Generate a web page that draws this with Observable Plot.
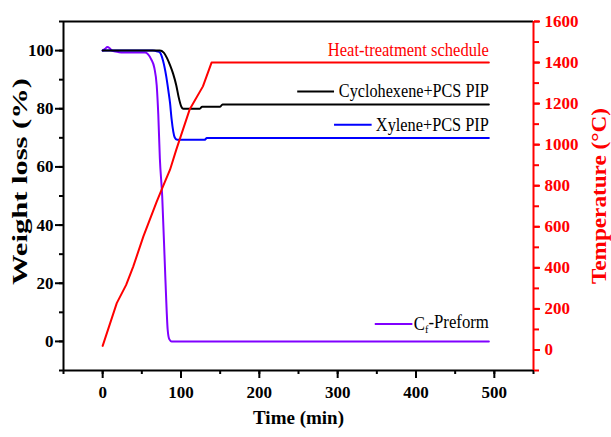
<!DOCTYPE html>
<html><head><meta charset="utf-8">
<script src="https://cdn.jsdelivr.net/npm/d3@7"></script>
<script src="https://cdn.jsdelivr.net/npm/@observablehq/plot@0.6"></script>
<style>body{margin:0;background:#fff} svg{display:block}</style>
</head><body><div id="chart"></div>
<script>
// ---- data ----
const heatTime = [0, 18, 30, 39, 52, 69, 77, 86, 94, 111, 128, 139, 493];
const heatTemp = [20, 228, 317, 406, 553, 723, 797, 878, 976, 1171, 1284, 1400, 1400];

const cycloTime   = [0, 73, 78, 82, 86, 90, 94, 97, 100, 103, 124, 127, 150, 153, 493];
const cycloWeight = [100, 100, 99.3, 97.5, 95, 92, 88, 84, 81, 80, 80, 80.7, 80.7, 81.5, 81.5];

const xyleneTime   = [0, 64, 70, 73, 77, 81, 84, 86, 88, 92, 95, 130, 133, 493];
const xyleneWeight = [100, 100, 99.7, 99.4, 96.6, 91.4, 86, 82, 76.4, 70.1, 69.3, 69.3, 69.9, 69.9];

const preformTime   = [0, 3, 6, 9, 12, 20, 26, 54, 58, 62, 66, 69, 71, 73, 76, 80, 83, 85, 88, 493];
const preformWeight = [100, 100.6, 101.2, 100.8, 100, 99.5, 99.3, 99.3, 98.7, 97, 94, 88, 78, 63, 50, 22, 4, 0.8, 0, 0];

const xTicks = [0, 100, 200, 300, 400, 500];
const yTicks = [0, 20, 40, 60, 80, 100];
const tempTicks = [0, 200, 400, 600, 800, 1000, 1200, 1400, 1600];

const legendLabels = ["Heat-treatment schedule", "Cyclohexene+PCS PIP", "Xylene+PCS PIP", "Cf-Preform"];
const legendColors = ["#ff0000", "#000000", "#0000ff", "#8000ff"];

// ---- layout ----
const xDomain = [-50, 550], yDomain = [-10, 110], tDomain = [-100, 1600];
const toW = T => (T - tDomain[0]) / (tDomain[1] - tDomain[0]) * (yDomain[1] - yDomain[0]) + yDomain[0];
const fromW = w => (w - yDomain[0]) / (yDomain[1] - yDomain[0]) * (tDomain[1] - tDomain[0]) + tDomain[0];

const legendTextX = 493;
const legendY = [100.2, 85.9, 74.5, 6.0];
const legendTextColors = ["#ff0000", "#000", "#000", "#000"];
const legendSampleX = [null, [249, 296], [296, 344], [348, 396]];
const legendTextLen = [161, 150, 113, 75];

const heat = heatTime.map((t, i) => ({t, w: toW(heatTemp[i])}));
const cyclo = cycloTime.map((t, i) => ({t, w: cycloWeight[i]}));
const xylene = xyleneTime.map((t, i) => ({t, w: xyleneWeight[i]}));
const preform = preformTime.map((t, i) => ({t, w: preformWeight[i]}));

const legend = legendLabels.map((label, i) => ({label, y: legendY[i], color: legendColors[i], textColor: legendTextColors[i], s: legendSampleX[i]}));
const samples = legend.filter(d => d.s);

const font = "'Liberation Serif','Times New Roman',serif";

const chart = Plot.plot({
  width: 611, height: 437,
  marginLeft: 63, marginRight: 78, marginTop: 21, marginBottom: 67,
  style: {fontFamily: font, background: "white", color: "black"},
  x: {domain: xDomain},
  y: {domain: yDomain},
  marks: [
    // minor ticks
    Plot.axisX({ticks: d3.range(-50, 551, 50), tickSize: 4, tickFormat: () => "", strokeWidth: 2, label: null}),
    Plot.axisY({anchor: "left", ticks: d3.range(-10, 111, 10), tickSize: 4, tickFormat: () => "", strokeWidth: 2, label: null}),
    Plot.axisY({anchor: "right", ticks: d3.range(-100, 1601, 100).map(toW), tickSize: 5, tickFormat: () => "", strokeWidth: 2, color: "#ff0000", label: null}),
    // major ticks
    Plot.axisX({ticks: xTicks, tickSize: 8, tickPadding: 7, fontSize: 17, fontWeight: "bold", strokeWidth: 2, label: null}),
    Plot.axisY({anchor: "left", ticks: yTicks, tickSize: 8, tickPadding: 2, fontSize: 17, fontWeight: "bold", strokeWidth: 2, label: null}),
    Plot.axisY({anchor: "right", ticks: tempTicks.map(toW), tickSize: 6, tickPadding: 5, fontSize: 17, fontWeight: "bold", strokeWidth: 2, color: "#ff0000", label: null,
      tickFormat: d => String(Math.round(fromW(d)))}),
    // frame
    Plot.ruleX([xDomain[0]], {stroke: "black", strokeWidth: 2}),
    Plot.ruleY([yDomain[0]], {stroke: "black", strokeWidth: 2}),
    Plot.ruleY([yDomain[1]], {stroke: "black", strokeWidth: 2}),
    Plot.ruleX([xDomain[1]], {stroke: "#ff0000", strokeWidth: 2}),
    // data
    Plot.line(preform, {x: "t", y: "w", stroke: legendColors[3], strokeWidth: 2, curve: "monotone-x"}),
    Plot.line(xylene, {x: "t", y: "w", stroke: legendColors[2], strokeWidth: 2, curve: "monotone-x"}),
    Plot.line(cyclo, {x: "t", y: "w", stroke: legendColors[1], strokeWidth: 2, curve: "monotone-x"}),
    Plot.line(heat, {x: "t", y: "w", stroke: legendColors[0], strokeWidth: 2}),
    // legend
    Plot.ruleY(samples, {y: "y", x1: d => d.s[0], x2: d => d.s[1], stroke: "color", strokeWidth: 2}),
    Plot.text(legend, {x: () => legendTextX, y: "y", text: "label", fill: "textColor", textAnchor: "end", fontSize: 18}),
    // axis titles
    Plot.text(["Time (min)"], {text: d => d, frameAnchor: "bottom", dy: 53, fontSize: 19, fontWeight: "bold"}),
    Plot.text(["Weight loss (%)"], {text: d => d, frameAnchor: "left", rotate: -90, textAnchor: "start", dx: -43, dy: 89, fontSize: 20, fontWeight: "bold"}),
    Plot.text(["Temperature (°C)"], {text: d => d, frameAnchor: "right", rotate: -90, textAnchor: "start", dx: 66, dy: 88, fill: "#ff0000", fontSize: 20, fontWeight: "bold"})
  ]
});

// text fitting
const lengths = {"Weight loss (%)": 207, "Temperature (°C)": 176};
legendLabels.forEach((l, i) => lengths[l] = legendTextLen[i]);
d3.select(chart).selectAll("text").each(function() {
  const s = this.textContent;
  if (s === "Cf-Preform") {
    const t = d3.select(this);
    t.text(null);
    t.append("tspan").text("C");
    t.append("tspan").attr("dy", "0.3em").attr("font-size", "11").text("f");
    t.append("tspan").attr("dy", "-0.3em").text("-Preform");
  }
  if (lengths[s]) {
    this.setAttribute("textLength", lengths[s]);
    this.setAttribute("lengthAdjust", "spacingAndGlyphs");
  }
});

document.getElementById("chart").appendChild(chart);
</script></body></html>
